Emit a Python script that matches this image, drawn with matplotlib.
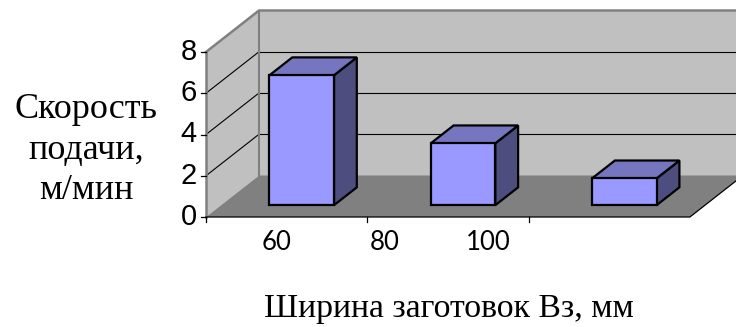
import numpy as np
import matplotlib.pyplot as plt
from matplotlib.patches import Polygon

categories = ['60', '80', '100']
speed = [6.3, 3.0, 1.3]
yticks = [0, 2, 4, 6, 8]

xlabel = 'Ширина заготовок Вз, мм'
ylabel = 'Скорость\nподачи,\nм/мин'

# layout (pixels of the 736x327 picture -> axis units)
px_x, px_y = 161.3, 20.625      # px per category / per value unit
x0_px, y0_px = 206, 217         # front origin
DX, DY = 53 / px_x, 41.5 / px_y # depth of the box
d0, d1 = 0.285, 0.715           # bar depth range
bw = 0.4
ymax = yticks[-1]
ncat = len(speed)

fig = plt.figure(figsize=(7.36, 3.27), dpi=100)
ax = fig.add_axes([0, 0, 1, 1])
ax.set_xlim(-x0_px / px_x, (736 - x0_px) / px_x)
ax.set_ylim((y0_px - 327) / px_y, y0_px / px_y)
ax.axis('off')


def poly(pts, fc, ec='none', lw=0, z=1):
    ax.add_patch(Polygon(pts, closed=True, facecolor=fc, edgecolor=ec,
                         linewidth=lw, zorder=z, joinstyle='miter'))


# walls and floor
poly([(DX, DY), (ncat + DX, DY), (ncat + DX, ymax + DY), (DX, ymax + DY)], '#C0C0C0')
poly([(0, 0), (DX, DY), (DX, ymax + DY), (0, ymax)], '#C0C0C0')
poly([(0, 0), (ncat, 0), (ncat + DX, DY), (DX, DY)], '#808080')

# gridlines
for v in yticks[1:-1]:
    ax.plot([0, DX], [v, v + DY], color='black', lw=0.8, zorder=2)
    ax.plot([DX, ncat + DX], [v + DY, v + DY], color='black', lw=0.8, zorder=2)

# gray frame edges
ax.plot([0, DX, ncat + DX], [ymax, ymax + DY, ymax + DY], color='#808080', lw=1.8, zorder=2)
ax.plot([DX, DX], [DY, ymax + DY], color='#808080', lw=1.5, zorder=2)
ax.plot([0, 0], [0, ymax], color='#808080', lw=1.8, zorder=3)

# axes lines and ticks
tkx = 5 / px_x
tky = 5 / px_y
ax.plot([0, ncat, ncat + DX], [0, 0, DY], color='black', lw=0.9, zorder=3)
for v in yticks:
    ax.plot([-tkx, 0], [v, v], color='black', lw=0.9, zorder=3)
    ax.text(-tkx - 4 / px_x, v, str(v), ha='right', va='center',
            fontsize=21, family='Liberation Sans')
for i in range(ncat):
    ax.plot([i, i], [0, -tky], color='black', lw=0.9, zorder=3)

# bars
for i, h in enumerate(speed):
    xl = i + 0.5 - bw / 2
    xr = i + 0.5 + bw / 2
    fx, fy = d0 * DX, d0 * DY
    bx, by = d1 * DX, d1 * DY
    ek = dict(ec='black', lw=1.6, z=5)
    poly([(xr + fx, fy), (xr + bx, by), (xr + bx, h + by), (xr + fx, h + fy)], '#4D4D80', **ek)
    poly([(xl + fx, h + fy), (xr + fx, h + fy), (xr + bx, h + by), (xl + bx, h + by)], '#7676C0', **ek)
    poly([(xl + fx, fy), (xr + fx, fy), (xr + fx, h + fy), (xl + fx, h + fy)], '#9999FF', **ek)

# category labels
label_pos = [(277 - x0_px) / px_x, (385 - x0_px) / px_x, (488 - x0_px) / px_x]
for p, c in zip(label_pos, categories):
    ax.text(p, (y0_px - 242) / px_y, c, ha='center', va='center',
            fontsize=18.5, family='Lato')

fig.text(449 / 736, 1 - 317 / 327, xlabel, ha='center', va='baseline',
         fontsize=24.3, family='Liberation Serif')
fig.text(86 / 736, 1 - 199 / 327, ylabel, ha='center', va='baseline',
         multialignment='center', linespacing=1.3,
         fontsize=26, family='Liberation Serif')

fig.savefig('out.png', dpi=100)
